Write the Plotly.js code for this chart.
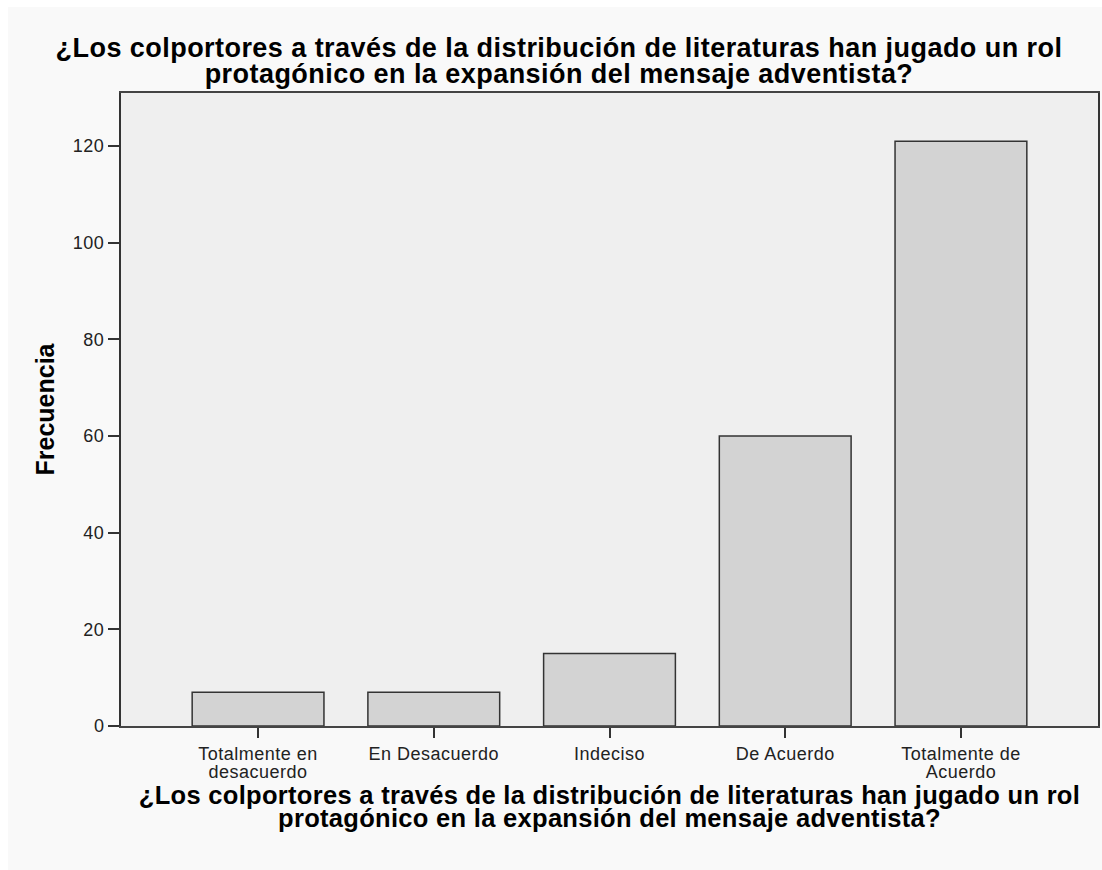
<!DOCTYPE html>
<html>
<head>
<meta charset="utf-8">
<script src="https://cdn.plot.ly/plotly-3.0.1.min.js"></script>
<style>
html,body{margin:0;padding:0;background:#ffffff;}
#chart{width:1102px;height:870px;background:#f9f9f9;box-shadow:inset 8px 7px 0 0 #ffffff;}
.gtitle{letter-spacing:0.45px;}
.xtitle{letter-spacing:0.3px;}
.xtick text,.ytick text{letter-spacing:0.5px;}
</style>
</head>
<body>
<div id="chart"></div>
<script>
const categories = ["Totalmente en<br>desacuerdo", "En Desacuerdo", "Indeciso", "De Acuerdo", "Totalmente de<br>Acuerdo"];
const frequencies = [7, 7, 15, 60, 121];
const titleText = "¿Los colportores a través de la distribución de literaturas han jugado un rol<br>protagónico en la expansión del mensaje adventista?";
const yTitle = "Frecuencia";

const FONT = "Liberation Sans, Arial, sans-serif";

const trace = {
  type: "bar",
  x: categories,
  y: frequencies,
  marker: {color: "#d3d3d3", line: {color: "#333333", width: 1.5}},
  hoverinfo: "x+y"
};

const layout = {
  width: 1102, height: 870,
  paper_bgcolor: "rgba(0,0,0,0)",
  plot_bgcolor: "#efefef",
  margin: {l: 121, r: 4, t: 93, b: 144},
  bargap: 0.25,
  showlegend: false,
  font: {family: FONT, color: "#111"},
  title: {
    text: titleText,
    font: {family: FONT, size: 27, color: "#000", weight: "bold"},
    x: 559/1102, xanchor: "center", xref: "container",
    y: 1 - 57/870, yanchor: "top", yref: "container"
  },
  xaxis: {
    type: "category",
    range: [-0.78, 4.78],
    showline: true, linecolor: "#444", linewidth: 2, mirror: true,
    ticks: "outside", ticklen: 10, tickcolor: "#333", tickwidth: 1.5,
    tickfont: {size: 18, color: "#222"},
    showgrid: false, zeroline: false,
    title: {
      text: titleText,
      font: {family: FONT, size: 25.5, color: "#000", weight: "bold"},
      standoff: 0
    }
  },
  yaxis: {
    range: [0, 131],
    dtick: 20, tick0: 0,
    showline: true, linecolor: "#333", linewidth: 2, mirror: true,
    ticks: "outside", ticklen: 11, tickcolor: "#333", tickwidth: 1.5,
    tickfont: {size: 18, color: "#222"},
    showgrid: false, zeroline: false,
    title: {
      text: yTitle,
      font: {family: FONT, size: 25, color: "#000", weight: "bold"},
      standoff: 11
    }
  }
};

function tighten(gd) {
  const set = (sel, em) => {
    gd.querySelectorAll(sel).forEach(t => {
      const lines = t.querySelectorAll("tspan.line");
      lines.forEach((ln, i) => { if (i > 0) ln.setAttribute("dy", em + "em"); });
    });
  };
  set("text.gtitle", 0.96);
  set("text.xtitle", 0.92);
  set(".xtick text", 1.0);
  const xt = gd.querySelector("text.xtitle");
  if (xt) {
    if (xt.dataset.tf0 === undefined) xt.dataset.tf0 = xt.getAttribute("transform") || "";
    xt.setAttribute("transform", (xt.dataset.tf0 + " translate(0,-6)").trim());
  }
}

Plotly.newPlot("chart", [trace], layout, {displayModeBar: false}).then(gd => {
  tighten(gd);
  gd.on("plotly_afterplot", () => tighten(gd));
});
</script>
</body>
</html>
